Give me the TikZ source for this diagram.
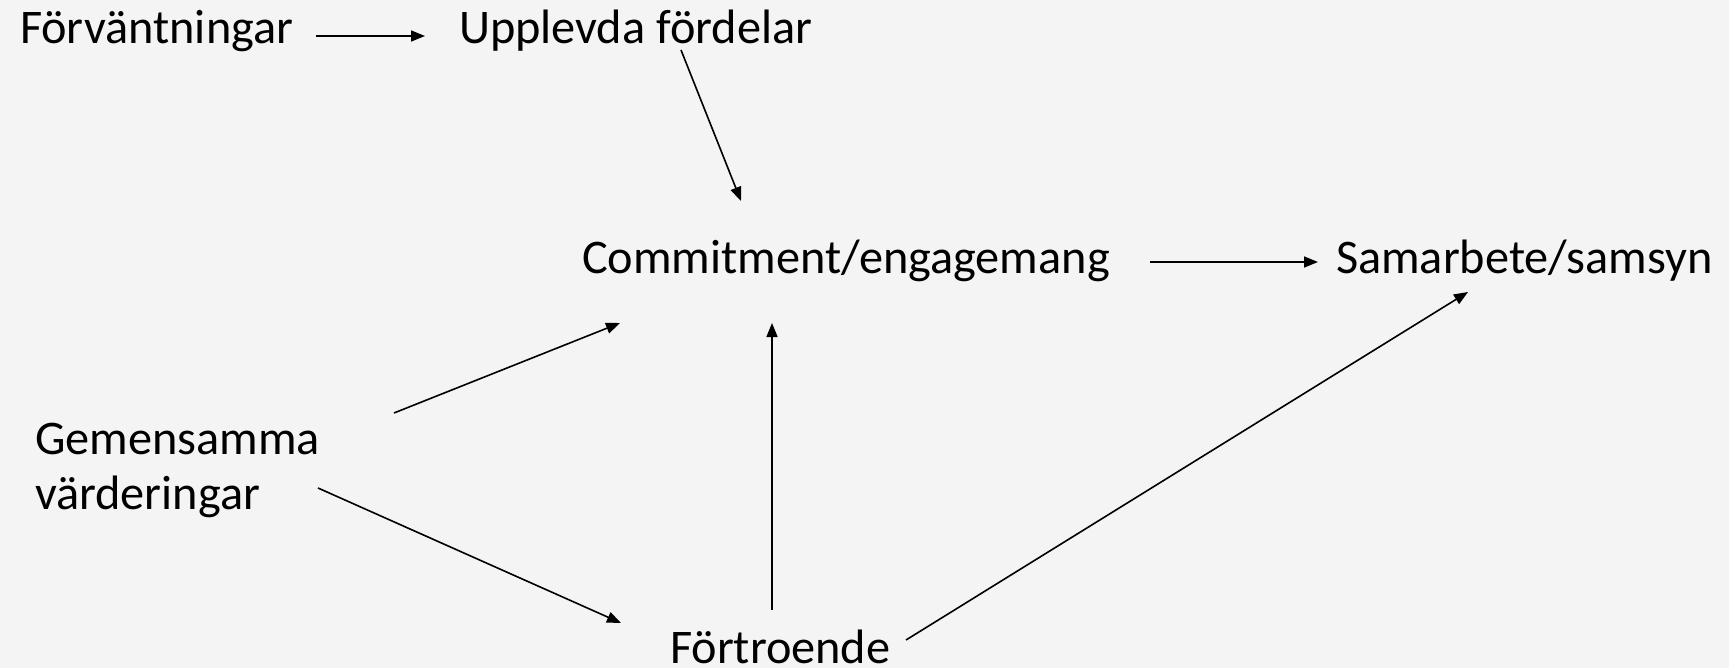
\documentclass[tikz,border=0pt]{standalone}
\usepackage{fontspec}
\setmainfont{Carlito}
\usetikzlibrary{arrows.meta,calc}
\definecolor{bgc}{HTML}{F4F4F4}
\tikzset{
  lbl/.style={inner sep=0pt, outer sep=0pt, anchor=base west, font=\fontsize{48.3}{55}\selectfont},
  arr/.style={line width=1.6pt, -{Triangle[length=14pt,width=11pt]}}
}
\begin{document}
\begin{tikzpicture}[x=1pt,y=-1pt]
\fill[bgc] (0,0) rectangle (1729,668);
\useasboundingbox (0,0) rectangle (1729,668);
\node[lbl] (fv) at (20,44) {Förväntningar};
\node[lbl] (upp) at (459,44) {Upplevda fördelar};
\node[lbl] (com) at (582,273) {Commitment/engagemang};
\node[lbl] (sam) at (1336,273) {Samarbete/samsyn};
\node[lbl, align=left] (gem) at (35,509) {Gemensamma\\värderingar};
\node[lbl] (fort) at (670,663) {Förtroende};
\draw[arr] ($(fv.base west)+(296,-8)$) -- ($(upp.base west)+(-34,-8)$);
\draw[arr] ($(upp.base west)+(222,6)$) -- ($(com.base west)+(159,-72)$);
\draw[arr] ($(com.base west)+(568,-11)$) -- ($(sam.base west)+(-18,-11)$);
\draw[arr] ($(gem.base west)+(359,-96)$) -- ($(com.base west)+(38,50)$);
\draw[arr] ($(gem.base west)+(283,-21)$) -- ($(fort.base west)+(-49,-40)$);
\draw[arr] ($(fort.base west)+(102,-53)$) -- ($(com.base west)+(190,50)$);
\draw[arr] ($(fort.base west)+(236,-23)$) -- ($(sam.base west)+(132,19)$);
\end{tikzpicture}
\end{document}
